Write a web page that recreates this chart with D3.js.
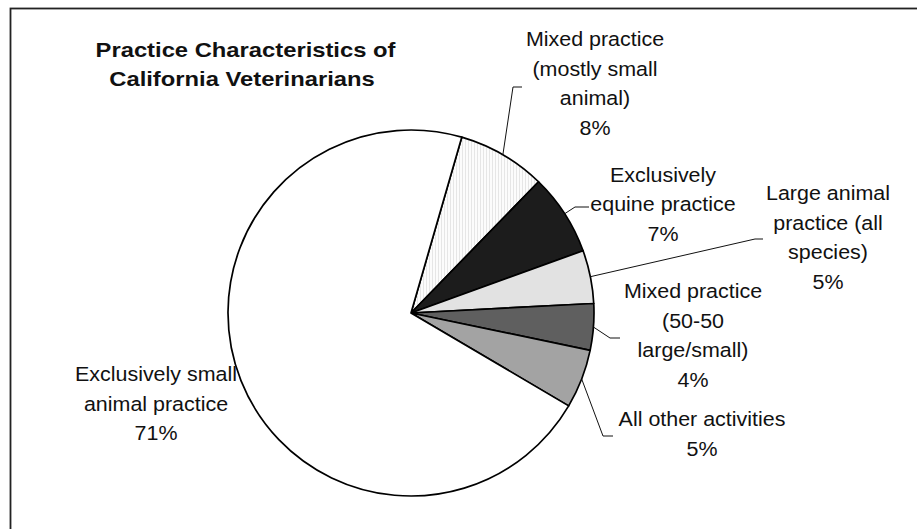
<!DOCTYPE html>
<html>
<head>
<meta charset="utf-8">
<script src="https://cdn.jsdelivr.net/npm/d3@7"></script>
<style>
  body { margin: 0; background: #fff; }
  svg text { font-family: "Liberation Sans", Arial, sans-serif; fill: #111; }
</style>
</head>
<body>
<div id="chart"></div>
<script>
const width = 917, height = 529;

// data
const categories = [
    "Mixed practice (mostly small animal)",
    "Exclusively equine practice",
    "Large animal practice (all species)",
    "Mixed practice (50-50 large/small)",
    "All other activities",
    "Exclusively small animal practice"
];
const values = [7.8, 7.2, 4.7, 4.1, 5.2, 71.0];
const labelLines = [
    ["Mixed practice", "(mostly small", "animal)"],
    ["Exclusively", "equine practice"],
    ["Large animal", "practice (all", "species)"],
    ["Mixed practice", "(50-50", "large/small)"],
    ["All other activities"],
    ["Exclusively small", "animal practice"]
];
const titleLines = ["Practice Characteristics of", "California Veterinarians"];

// layout (not data)
const cx = 411, cy = 313, radius = 183;
const fills = ["url(#hatch)", "#1c1c1c", "#e2e2e2", "#5f5f5f", "#a3a3a3", "#ffffff"];
const labelPos = [
    {x: 595, y: 46, elbow: [[513, 87], [522, 87]]},
    {x: 663, y: 181.5, elbow: [[575, 207], [589, 207]]},
    {x: 828, y: 200, elbow: [[755, 239], [763, 239]]},
    {x: 693, y: 298, elbow: [[610, 338], [620, 338]]},
    {x: 702, y: 426, elbow: [[603, 436], [613, 436]]},
    {x: 156, y: 381, elbow: null}
];
const lineGap = 29.7;

let svg = d3.select("#chart")
    .append("svg")
    .attr("width", width)
    .attr("height", height);

let defs = svg.append("defs");
let pat = defs.append("pattern")
    .attr("id", "hatch")
    .attr("patternUnits", "userSpaceOnUse")
    .attr("width", 3)
    .attr("height", 3);
pat.append("rect").attr("width", 3).attr("height", 3).attr("fill", "#fcfcfc");
pat.append("line")
    .attr("x1", 0.5).attr("y1", 0).attr("x2", 0.5).attr("y2", 3)
    .attr("stroke", "#e6e6e6").attr("stroke-width", 1);

// outer frame (right and bottom run off the picture)
svg.append("rect")
    .attr("x", 10.5).attr("y", 8.5)
    .attr("width", 940).attr("height", 560)
    .attr("fill", "none")
    .attr("stroke", "#222")
    .attr("stroke-width", 1.8);

// title
let title = svg.append("g");
title.selectAll("g")
    .data(titleLines)
    .enter()
    .append("g")
    .attr("transform", (d, i) => `translate(${i == 0 ? 245.5 : 242}, ${57 + i * 29}) scale(1.16, 1)`)
    .append("text")
    .attr("text-anchor", "middle")
    .style("font-size", "20.5px")
    .style("font-weight", "bold")
    .text(d => d);

let pie = d3.pie()
    .sort(null)
    .startAngle(16.1 * Math.PI / 180)
    .endAngle(16.1 * Math.PI / 180 + 2 * Math.PI);

let arc = d3.arc().innerRadius(0).outerRadius(radius);

let arcs = pie(values);

let g = svg.append("g")
    .attr("transform", `translate(${cx}, ${cy})`);

g.selectAll("path")
    .data(arcs)
    .enter()
    .append("path")
    .attr("d", arc)
    .attr("fill", (d, i) => fills[i])
    .attr("stroke", "#000")
    .attr("stroke-width", 1.7)
    .attr("stroke-linejoin", "round");

// leader lines from the middle of each slice's rim
let leaders = svg.append("g");
arcs.forEach(function(d, i) {
    let lp = labelPos[i];
    if (!lp.elbow) return;
    let mid = (d.startAngle + d.endAngle) / 2;
    let sx = cx + radius * Math.sin(mid);
    let sy = cy - radius * Math.cos(mid);
    let pts = [[sx, sy]].concat(lp.elbow);
    leaders.append("path")
        .attr("d", d3.line()(pts))
        .attr("fill", "none")
        .attr("stroke", "#111")
        .attr("stroke-width", 1);
});

// labels
let labels = svg.append("g");
arcs.forEach(function(d, i) {
    let lp = labelPos[i];
    let lines = labelLines[i].concat([Math.round(values[i]) + "%"]);
    lines.forEach(function(t, j) {
        labels.append("g")
            .attr("transform", `translate(${lp.x}, ${lp.y + j * lineGap}) scale(1.1, 1)`)
            .append("text")
            .attr("text-anchor", "middle")
            .style("font-size", "19.5px")
            .text(t);
    });
});
</script>
</body>
</html>
